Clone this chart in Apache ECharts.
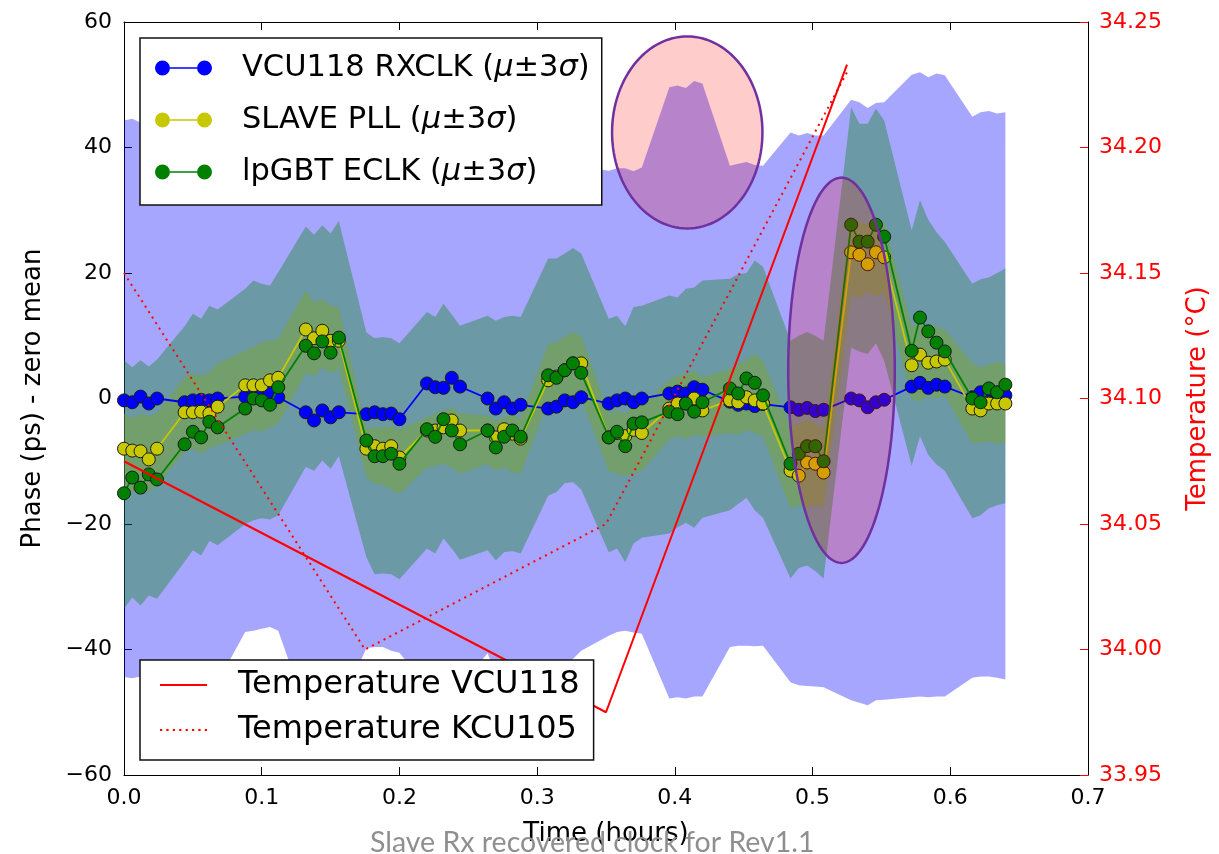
<!DOCTYPE html>
<html>
<head>
<meta charset="utf-8">
<title>Slave Rx recovered clock for Rev1.1</title>
<script src="https://cdn.jsdelivr.net/npm/echarts@6/dist/echarts.min.js"></script>
<style>
html, body { margin: 0; padding: 0; background: #fff; }
#chart { width: 1219px; height: 854px; }
</style>
</head>
<body>
<div id="chart"></div>
<script>
// time of each measurement (hours), bursts of 5
var time = [
    0.000, 0.006, 0.012, 0.018, 0.024,  0.044, 0.050, 0.056, 0.062, 0.068,
    0.088, 0.094, 0.100, 0.106, 0.112,  0.132, 0.138, 0.144, 0.150, 0.156,
    0.176, 0.182, 0.188, 0.194, 0.200,  0.220, 0.226, 0.232, 0.238, 0.244,
    0.264, 0.270, 0.276, 0.282, 0.288,  0.308, 0.314, 0.320, 0.326, 0.332,
    0.352, 0.358, 0.364, 0.370, 0.376,  0.396, 0.402, 0.408, 0.414, 0.420,
    0.440, 0.446, 0.452, 0.458, 0.464,  0.484, 0.490, 0.496, 0.502, 0.508,
    0.528, 0.534, 0.540, 0.546, 0.552,  0.572, 0.578, 0.584, 0.590, 0.596,
    0.616, 0.622, 0.628, 0.634, 0.640
];

// VCU118 RXCLK phase (ps)
var rxclk = [
    -0.3, -0.6, 0.3, -0.8, 0.0,   -0.6, -0.3, -0.2, -0.3, 0.0,
    0.3, 1.0, 0.6, 0.8, 0.2,      -2.2, -3.5, -1.9, -3.0, -2.2,
    -2.5, -2.2, -2.5, -2.4, -3.3, 2.4, 1.8, 1.7, 3.3, 1.9,
    0.0, -1.6, -0.6, -1.6, -1.0,  -1.6, -1.3, -0.3, -0.6, 0.2,
    -0.8, -0.3, 0.0, -0.6, 0.0,   0.8, 1.1, 0.8, 1.8, 1.4,
    -0.5, -1.0, -0.8, -1.2, -0.9, -1.4, -1.8, -1.5, -2.0, -1.8,
    0.0, -0.3, -1.4, -0.6, -0.2,  1.9, 2.5, 1.7, 2.2, 1.9,
    0.2, 1.0, 1.3, 0.7, 0.5
];
var rxclkHi = [
    44.3, 44.6, 44.0, 44.4, 44.2, 43.5, 43.0, 43.8, 42.9, 43.2,
    42.0, 41.5, 42.2, 41.6, 41.8, 41.0, 40.6, 41.2, 40.5, 40.8,
    40.2, 39.8, 40.4, 39.9, 40.0, 39.5, 39.0, 39.6, 39.2, 39.4,
    38.5, 38.0, 38.6, 38.1, 38.3, 37.5, 37.0, 37.4, 36.9, 37.0,
    36.3, 36.7, 36.7, 36.2, 36.8, 49.6, 49.9, 49.5, 50.6, 50.2,
    37.1, 37.4, 37.7, 37.2, 37.1, 42.4, 41.9, 42.3, 41.9, 41.9,
    47.6, 47.2, 46.3, 47.1, 47.2, 51.6, 52.0, 51.2, 51.8, 51.5,
    44.9, 45.6, 45.8, 45.4, 45.6
];
var rxclkLo = [
    -44.4, -44.6, -44.3, -44.5, -44.5, -45.0, -45.3, -44.8, -45.5, -45.2,
    -37.2, -37.0, -36.7, -36.4, -37.0, -49.5, -50.0, -49.0, -50.0, -49.5,
    -39.8, -39.6, -39.6, -40.2, -40.5, -46.0, -46.5, -45.8, -46.2, -46.0,
    -40.6, -44.0, -45.0, -44.5, -45.0, -44.0, -43.0, -42.5, -41.5, -40.2,
    -37.8, -37.2, -37.0, -37.3, -37.5, -47.8, -47.6, -47.8, -47.5, -47.5,
    -39.6, -39.4, -39.4, -39.5, -39.4, -45.2, -45.7, -45.8, -45.9, -46.0,
    -48.1, -48.5, -48.9, -48.1, -48.0, -47.6, -47.5, -47.6, -47.5, -47.5,
    -44.5, -44.3, -44.3, -44.5, -44.8
];

// SLAVE PLL phase (ps)
var pll = [
    -8.0, -8.3, -8.4, -9.7, -8.0,  -2.2, -2.2, -2.1, -2.4, -1.3,
    2.1, 2.1, 2.1, 2.9, 3.3,       11.0, 9.6, 10.8, 9.2, 9.2,
    -8.0, -7.6, -8.0, -7.6, -9.4,  -5.1, -5.1, -4.6, -3.5, -5.1,
    -5.1, -6.2, -4.9, -5.6, -6.4,  2.9, 3.5, 4.5, 5.6, 5.6,
    -6.2, -5.5, -6.0, -5.0, -5.5,  -1.6, -0.8, -0.8, 0.0, -1.9,
    -0.3, -0.6, 0.2, -0.3, -0.8,   -11.5, -12.3, -10.2, -10.4, -11.8,
    23.3, 22.9, 21.4, 23.3, 22.5,  5.3, 7.0, 5.7, 5.9, 6.2,
    -1.6, -1.9, -0.8, -0.8, -0.8
];
var pllHi = [
    -2.4, -3.2, -2.4, -2.8, -2.3, 3.4, 4.0, 3.6, 4.2, 5.6,
    7.6, 8.2, 9.0, 9.2, 9.5,      17.2, 15.3, 15.8, 14.8, 14.5,
    -4.8, -4.6, -4.6, -4.4, -5.0, -3.0, -2.4, -1.9, -1.4, -2.4,
    -2.7, -3.5, -3.0, -2.5, -3.2, 8.7, 9.0, 9.8, 10.6, 10.0,
    -2.4, -1.9, -2.4, -1.4, -0.9, 2.9, 3.7, 3.8, 4.5, 3.4,
    4.7, 5.5, 6.1, 7.1, 6.0,      -4.5, -4.0, -3.5, -4.0, -5.0,
    28.8, 28.1, 27.8, 28.8, 28.0, 11.5, 12.0, 11.0, 11.5, 11.0,
    5.6, 5.0, 5.4, 5.8, 5.5
];
var pllLo = [
    -14.5, -14.8, -15.2, -14.8, -13.9, -8.5, -8.0, -8.8, -7.8, -7.5,
    -5.6, -5.0, -5.2, -4.6, -4.0,      4.0, 3.5, 5.0, 4.0, 4.8,
    -12.5, -13.6, -13.8, -14.5, -15.2, -11.0, -10.8, -10.4, -11.0, -12.0,
    -10.4, -11.5, -11.0, -11.8, -12.0, -0.5, -0.5, 0.0, 0.5, 0.0,
    -11.5, -12.0, -12.3, -12.0, -11.5, -6.5, -6.0, -6.5, -5.8, -6.0,
    -5.5, -5.8, -5.0, -5.5, -6.0,      -17.5, -17.0, -17.3, -17.0, -17.3,
    16.5, 16.0, 17.0, 16.2, 16.8,      0.0, -0.5, 0.5, 0.0, 0.5,
    -7.2, -7.0, -6.8, -7.2, -7.0
];

// lpGBT ECLK phase (ps)
var eclk = [
    -15.1, -12.6, -14.2, -12.1, -12.9, -7.3, -5.3, -6.2, -3.7, -4.6,
    -1.6, 0.0, -0.3, -1.0, 1.8,        8.4, 7.2, 9.1, 7.3, 9.7,
    -6.7, -9.2, -9.2, -8.8, -10.4,     -4.9, -6.1, -3.3, -5.1, -7.3,
    -5.1, -7.8, -6.1, -5.1, -6.1,      3.7, 3.3, 4.5, 5.6, 4.1,
    -6.2, -5.3, -7.6, -4.0, -3.8,      -2.1, -2.5, -0.8, -2.1, -0.6,
    1.6, 0.8, 3.2, 2.5, 0.5,           -10.4, -8.8, -7.6, -7.6, -10.0,
    27.7, 25.0, 25.0, 27.7, 25.8,      7.6, 12.9, 10.7, 8.9, 7.5,
    0.0, -0.6, 1.6, 1.0, 2.2
];
var eclkHi = [
    6.1, 5.0, 6.1, 5.1, 6.2,      11.5, 13.5, 12.7, 14.8, 14.2,
    17.5, 18.8, 18.3, 18.0, 20.1, 27.4, 26.1, 27.6, 26.3, 28.3,
    10.5, 9.6, 9.8, 9.6, 8.8,     13.8, 13.0, 15.1, 13.4, 11.6,
    13.2, 12.4, 13.0, 13.2, 13.0, 22.3, 22.3, 23.1, 24.0, 23.1,
    12.7, 13.2, 11.5, 14.6, 14.8, 16.4, 16.1, 17.5, 17.7, 18.8,
    19.1, 19.8, 20.0, 22.0, 21.0, 9.2, 10.0, 10.6, 10.0, 9.2,
    46.4, 43.8, 43.8, 46.2, 44.3, 26.8, 31.6, 28.5, 26.5, 25.0,
    18.3, 19.0, 19.3, 20.0, 20.7
];
var eclkLo = [
    -33.5, -31.7, -33.0, -31.4, -31.9, -26.0, -24.2, -25.0, -22.7, -23.4,
    -20.0, -19.4, -19.1, -19.3, -18.6, -10.9, -11.5, -9.9, -11.2, -9.2,
    -25.3, -28.0, -27.9, -28.0, -28.8, -23.9, -24.7, -22.3, -23.9, -25.7,
    -24.2, -25.8, -24.5, -24.3, -24.7, -15.5, -14.9, -13.5, -13.3, -14.5,
    -24.5, -23.9, -26.1, -23.1, -22.2, -21.5, -20.5, -19.8, -20.6, -19.0,
    -17.8, -16.8, -15.8, -17.8, -19.0, -28.7, -27.0, -26.6, -27.5, -28.7,
    8.1, 7.5, 7.1, 8.8, 6.0,           -10.7, -6.0, -9.0, -10.5, -11.5,
    -19.1, -18.6, -17.5, -17.0, -16.7
];

// board temperatures (right axis, deg C)
var tempVcuTime = [0, 0.35, 0.525];
var tempVcu = [34.075, 33.975, 34.233];
var tempKcuTime = [0, 0.175, 0.35, 0.525];
var tempKcu = [34.15, 34.0, 34.05, 34.23];

// highlighted regions: centre x, centre y, half width, half height (data units)
var highlights = [
    [0.409, 42.4, 0.0546, 15.3],
    [0.521, 4.5, 0.0387, 30.7]
];

var font = 'DejaVu Sans';

function pairs(xs, ys) {
    return xs.map(function (x, i) { return [x, ys[i]]; });
}

// band between lo and hi, drawn as one polygon
function band(lo, hi, color, z) {
    return {
        type: 'custom',
        silent: true,
        z: z,
        data: time.map(function (t, i) { return [t, lo[i], hi[i]]; }),
        encode: { x: 0, y: [1, 2] },
        renderItem: function (params, api) {
            if (params.dataIndex !== 0) return null;
            var pts = [];
            for (var i = 0; i < time.length; i++) pts.push(api.coord([time[i], hi[i]]));
            for (var j = time.length - 1; j >= 0; j--) pts.push(api.coord([time[j], lo[j]]));
            return { type: 'polygon', shape: { points: pts }, style: { fill: color } };
        }
    };
}

function phase(name, values, color, z) {
    return {
        type: 'line',
        name: name,
        z: z,
        data: pairs(time, values),
        symbol: 'circle',
        symbolSize: 13,
        lineStyle: { color: color, width: 1.8 },
        itemStyle: { color: color, borderColor: '#1a1a1a', borderWidth: 1 }
    };
}

// legend icons: line with a marker at each end, plain line, dotted line
var iconMarkers = 'path://M0,7.5A7.5,7.5,0,1,1,15,7.5A7.5,7.5,0,1,1,0,7.5ZM42,7.5A7.5,7.5,0,1,1,57,7.5A7.5,7.5,0,1,1,42,7.5ZM15,6.7L42,6.7L42,8.3L15,8.3Z';
var iconSolid = 'path://M0,0L47,0L47,2L0,2Z';
var iconDotted = 'path://M0,0L2.2,0L2.2,2.2L0,2.2ZM6.4,0L8.6,0L8.6,2.2L6.4,2.2ZM12.8,0L15,0L15,2.2L12.8,2.2Z' +
    'M19.2,0L21.4,0L21.4,2.2L19.2,2.2ZM25.6,0L27.8,0L27.8,2.2L25.6,2.2ZM32,0L34.2,0L34.2,2.2L32,2.2Z' +
    'M38.4,0L40.6,0L40.6,2.2L38.4,2.2ZM44.8,0L47,0L47,2.2L44.8,2.2Z';

var myChart = echarts.init(document.getElementById('chart'));
myChart.setOption({
    animation: false,
    backgroundColor: '#fff',
    title: {
        text: 'Slave Rx recovered clock for Rev1.1',
        left: 370,
        top: 828,
        padding: 0,
        textStyle: { fontFamily: 'Lato', fontSize: 28.5, fontWeight: 'normal', color: '#8f8f8f' }
    },
    grid: { left: 124, right: 124, top: 22, bottom: 79 },
    xAxis: [{
        type: 'value', position: 'bottom',
        min: 0, max: 0.7, interval: 0.1,
        name: 'Time (hours)', nameLocation: 'middle', nameGap: 46,
        nameTextStyle: { fontFamily: font, fontSize: 26, color: '#000' },
        axisLine: { onZero: false, lineStyle: { color: '#000', width: 1 } },
        axisTick: { inside: true, length: 8, lineStyle: { color: '#000' } },
        axisLabel: {
            fontFamily: font, fontSize: 22, color: '#000', margin: 12,
            formatter: function (v) { return v.toFixed(1); }
        },
        splitLine: { show: false }
    }, {
        type: 'value', position: 'top',
        min: 0, max: 0.7, interval: 0.1,
        axisLine: { onZero: false, lineStyle: { color: '#000', width: 1 } },
        axisTick: { inside: true, length: 8, lineStyle: { color: '#000' } },
        axisLabel: { show: false },
        splitLine: { show: false }
    }],
    yAxis: [{
        type: 'value', position: 'left',
        min: -60, max: 60, interval: 20,
        name: 'Phase (ps) - zero mean', nameLocation: 'middle', nameGap: 78,
        nameTextStyle: { fontFamily: font, fontSize: 26, color: '#000' },
        axisLine: { show: true, onZero: false, lineStyle: { color: '#000', width: 1 } },
        axisTick: { show: true, inside: true, length: 8, lineStyle: { color: '#000' } },
        axisLabel: {
            fontFamily: font, fontSize: 22, color: '#000', margin: 12,
            formatter: function (v) { return v < 0 ? '\u2212' + Math.abs(v) : String(v); }
        },
        splitLine: { show: false }
    }, {
        type: 'value', position: 'right',
        min: 33.95, max: 34.25, interval: 0.05,
        name: 'Temperature (\u00b0C)', nameLocation: 'middle', nameGap: 97,
        nameTextStyle: { fontFamily: font, fontSize: 26, color: '#ff0000' },
        axisLine: { show: true, onZero: false, lineStyle: { color: '#000', width: 1 } },
        axisTick: { show: true, inside: true, length: 8, lineStyle: { color: '#ff0000' } },
        axisLabel: {
            fontFamily: font, fontSize: 22, color: '#ff0000', margin: 11,
            formatter: function (v) { return v.toFixed(2); }
        },
        splitLine: { show: false }
    }],
    legend: [{
        data: [
            { name: 'VCU118 RXCLK', icon: iconMarkers },
            { name: 'SLAVE PLL', icon: iconMarkers },
            { name: 'lpGBT ECLK', icon: iconMarkers }
        ],
        orient: 'vertical',
        left: 140, top: 38,
        itemWidth: 57, itemHeight: 15, itemGap: 18,
        padding: [13, 12, 16, 15],
        backgroundColor: '#fff',
        borderColor: '#111', borderWidth: 1.5,
        itemStyle: { borderWidth: 0 },
        z: 20,
        selectedMode: false,
        formatter: function (name) {
            return '{t|' + name + ' (}{i|\u03bc}{t|\u00b13}{i|\u03c3}{t|)}';
        },
        textStyle: {
            fontFamily: font, fontSize: 30.5, color: '#000', lineHeight: 34,
            padding: [0, 0, 0, 25],
            rich: {
                t: { fontFamily: font, fontSize: 30.5, color: '#000', lineHeight: 34 },
                i: { fontFamily: font, fontSize: 30.5, color: '#000', lineHeight: 34, fontStyle: 'italic' }
            }
        }
    }, {
        data: [
            { name: 'Temperature VCU118', icon: iconSolid },
            { name: 'Temperature KCU105', icon: iconDotted }
        ],
        orient: 'vertical',
        left: 140, top: 660,
        itemWidth: 47, itemHeight: 14, itemGap: 11,
        padding: [8, 14, 13, 20],
        backgroundColor: '#fff',
        borderColor: '#111', borderWidth: 1.5,
        itemStyle: { borderWidth: 0 },
        z: 20,
        selectedMode: false,
        textStyle: {
            fontFamily: font, fontSize: 32, color: '#000', lineHeight: 34,
            padding: [0, 0, 0, 26]
        }
    }],
    series: [
        band(rxclkLo, rxclkHi, 'rgba(0,0,255,0.35)', 1),
        band(pllLo, pllHi, 'rgba(191,191,0,0.35)', 1),
        band(eclkLo, eclkHi, 'rgba(0,128,0,0.35)', 1),
        phase('VCU118 RXCLK', rxclk, '#0000ff', 3),
        phase('SLAVE PLL', pll, '#c8c800', 4),
        phase('lpGBT ECLK', eclk, '#008000', 5),
        {
            type: 'line', name: 'Temperature VCU118', yAxisIndex: 1, z: 6,
            data: pairs(tempVcuTime, tempVcu),
            symbol: 'none',
            lineStyle: { color: '#ff0000', width: 2 },
            itemStyle: { color: '#ff0000' }
        },
        {
            type: 'line', name: 'Temperature KCU105', yAxisIndex: 1, z: 6,
            data: pairs(tempKcuTime, tempKcu),
            symbol: 'none',
            lineStyle: { color: '#ff0000', width: 2, type: [2, 4.5] },
            itemStyle: { color: '#ff0000' }
        },
        {
            type: 'custom', silent: true, z: 8,
            data: highlights,
            encode: { x: 0, y: 1 },
            renderItem: function (params, api) {
                var c = api.coord([api.value(0), api.value(1)]);
                var s = api.size([api.value(2), api.value(3)]);
                var pts = [];
                for (var k = 0; k < 120; k++) {
                    var a = k / 120 * 2 * Math.PI;
                    pts.push([c[0] + s[0] * Math.cos(a), c[1] + s[1] * Math.sin(a)]);
                }
                return {
                    type: 'polygon',
                    shape: { points: pts },
                    style: { fill: 'rgba(255,0,0,0.2)', stroke: '#7030a0', lineWidth: 2.5 }
                };
            }
        }
    ]
});
</script>
</body>
</html>
